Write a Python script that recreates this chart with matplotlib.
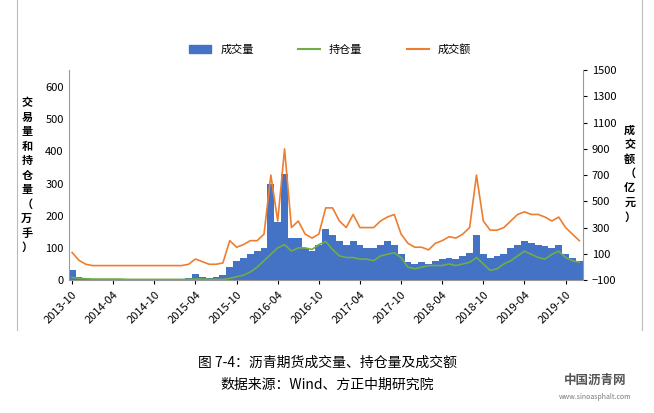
import matplotlib.pyplot as plt
from matplotlib.lines import Line2D

plt.rcParams['font.family'] = 'Noto Sans CJK SC'

# monthly values, 2013-10 .. 2019-12
volume = [30, 10, 5, 3, 3, 3, 3, 3, 3, 3, 3, 3, 3, 3, 3, 3, 3, 5, 20, 10, 5, 8, 15, 40,
          60, 70, 80, 90, 100, 300, 180, 330, 130, 130, 100, 90, 110, 160, 140,
          120, 110, 120, 110, 100, 100, 110, 120, 110, 80, 55, 50,
          55, 50, 60, 65, 70, 65, 75, 85, 140, 80, 70, 75,
          80, 100, 110, 120, 115, 110, 105, 100, 110, 80, 70, 60]
open_int = [8, 5, 4, 3, 3, 3, 3, 3, 2, 2, 2, 2, 2, 2, 2, 2, 2, 2, 3, 3, 2, 2, 2, 5,
            10, 15, 25, 40, 60, 80, 100, 110, 90, 100, 100, 95, 110, 120, 95,
            75, 70, 70, 65, 65, 60, 75, 80, 85, 70, 40, 35,
            40, 45, 45, 45, 50, 45, 50, 55, 70, 50, 30, 35,
            50, 60, 75, 90, 80, 70, 65, 80, 90, 70, 60, 55]
turnover = [110, 50, 20, 10, 10, 10, 10, 10, 10, 10, 10, 10, 10, 10, 10, 10, 10, 20, 60, 40, 20, 20, 30, 200,
            150, 170, 200, 200, 250, 700, 350, 900, 300, 350, 250, 220, 250, 450, 450,
            350, 300, 400, 300, 300, 300, 350, 380, 400, 250, 180, 150,
            150, 130, 180, 200, 230, 220, 250, 300, 700, 350, 280, 280,
            300, 350, 400, 420, 400, 400, 380, 350, 380, 300, 250, 200]
tick_labels = ['2013-10', '2014-04', '2014-10', '2015-04', '2015-10', '2016-04', '2016-10',
               '2017-04', '2017-10', '2018-04', '2018-10', '2019-04', '2019-10']

x = list(range(len(volume)))
blue, green, orange = '#4472C4', '#70AD47', '#ED7D31'

fig = plt.figure(figsize=(6.54, 4.13), dpi=100)
ax = fig.add_axes([0.105, 0.322, 0.786, 0.508])
ax.bar(x, volume, width=1.0, color=blue, linewidth=0)
ax.plot(x, open_int, color=green, lw=1.2)
ax.set_ylim(0, 653)
ax.set_xlim(-0.5, len(x) - 0.5)
ax.set_yticks(range(0, 601, 100))
ax.set_xticks(range(0, len(x), 6))
ax.set_xticklabels(tick_labels, rotation=45, ha='right', fontsize=7, rotation_mode='anchor')
ax.tick_params(labelsize=8, length=0)
ax.tick_params(axis='x', length=3)
for s in ['top', 'right']:
    ax.spines[s].set_visible(False)
ax.spines['left'].set_color('#999999')
ax.spines['bottom'].set_color('#999999')

ax2 = ax.twinx()
ax2.plot(x, turnover, color=orange, lw=1.2)
ax2.set_ylim(-100, 1500)
ax2.set_yticks(range(-100, 1501, 200))
ax2.tick_params(labelsize=8, length=3)
for s in ['top', 'left', 'bottom']:
    ax2.spines[s].set_visible(False)
ax2.spines['right'].set_color('#999999')

fig.text(0.041, 0.576, '\n'.join('交易量和持仓量（万手）'), ha='center', va='center',
         fontsize=8, fontweight='bold', linespacing=1.15)
fig.text(0.963, 0.58, '\n'.join('成交额（亿元）'), ha='center', va='center',
         fontsize=8, fontweight='bold', linespacing=1.15)

handles = [plt.Rectangle((0, 0), 1, 1, color=blue), Line2D([], [], color=green, lw=1.5),
           Line2D([], [], color=orange, lw=1.5)]
fig.legend(handles, ['成交量', '持仓量', '成交额'], loc='center', bbox_to_anchor=(0.505, 0.88),
           ncol=3, frameon=False, fontsize=8, columnspacing=4, handlelength=2)

fig.add_artist(Line2D([0.026, 0.026], [0.2, 1.0], color='#bbbbbb', lw=0.8))
fig.add_artist(Line2D([0.982, 0.982], [0.2, 1.0], color='#bbbbbb', lw=0.8))

fig.text(0.5, 0.112, '图 7-4：沥青期货成交量、持仓量及成交额', ha='center', fontsize=10)
fig.text(0.5, 0.058, '数据来源：Wind、方正中期研究院', ha='center', fontsize=10)
fig.text(0.91, 0.07, '中国沥青网', ha='center', fontsize=9, color='#555555', fontweight='bold')
fig.text(0.91, 0.035, 'www.sinoasphalt.com', ha='center', fontsize=5, color='#777777')

fig.savefig('out.png', dpi=100)
